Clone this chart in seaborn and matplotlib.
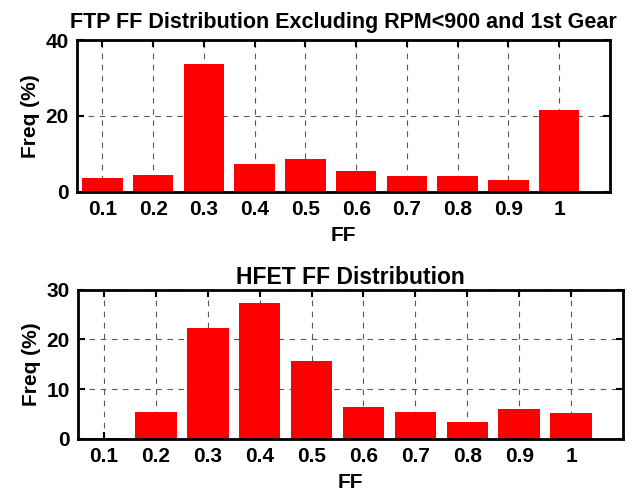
import matplotlib.pyplot as plt
import seaborn as sns

# FF bin centres and frequencies (%)
ff_bins = [0.1, 0.2, 0.3, 0.4, 0.5, 0.6, 0.7, 0.8, 0.9, 1.0]
ff_labels = ['0.1', '0.2', '0.3', '0.4', '0.5', '0.6', '0.7', '0.8', '0.9', '1']
ftp_freq = [3.7, 4.4, 33.8, 7.4, 8.8, 5.4, 4.1, 4.1, 3.1, 21.6]
hfet_freq = [0.2, 5.5, 22.4, 27.4, 15.6, 6.5, 5.5, 3.4, 6.0, 5.3]

sns.set_theme(style='ticks')
plt.rcParams['font.family'] = ['Liberation Sans', 'DejaVu Sans']
plt.rcParams['font.weight'] = 'bold'
plt.rcParams['axes.labelweight'] = 'bold'
plt.rcParams['axes.titleweight'] = 'bold'
plt.rcParams['text.color'] = 'black'
plt.rcParams['axes.labelcolor'] = 'black'
plt.rcParams['xtick.color'] = 'black'
plt.rcParams['ytick.color'] = 'black'

fig = plt.figure(figsize=(6.39, 4.91), dpi=100)
ax_top = fig.add_axes([0.1205, 0.609, 0.834, 0.3095])
ax_bot = fig.add_axes([0.122, 0.106, 0.853, 0.304])

panels = [
    (ax_top, ftp_freq, 'FTP FF Distribution Excluding RPM<900 and 1st Gear',
     [0, 20, 40], 40, 15.5, 9),
    (ax_bot, hfet_freq, 'HFET FF Distribution', [0, 10, 20, 30], 30, 16.5, 4),
]

for ax, freq, title, yticks, ymax, title_size, title_pad in panels:
    sns.barplot(
        x=ff_bins,
        y=freq,
        native_scale=True,
        color='#ff0000',
        saturation=1,
        width=0.8,
        linewidth=0,
        ax=ax,
    )
    ax.set_xlim(0.05, 1.1)
    ax.set_ylim(0, ymax)
    ax.set_xticks(ff_bins)
    ax.set_xticklabels(ff_labels)
    ax.set_yticks(yticks)
    ax.set_axisbelow(True)
    ax.grid(True, linestyle=(0, (5, 5)), color='0.35', linewidth=0.8)
    ax.tick_params(direction='in', top=True, right=True, length=5, width=1.5,
                   labelsize=15, pad=6)
    for spine in ax.spines.values():
        spine.set_linewidth(2)
        spine.set_color('black')
    ax.set_xlabel('FF', fontsize=15, labelpad=5)
    ax.set_ylabel('Freq (%)', fontsize=15, labelpad=4)
    ax.set_title(title, fontsize=title_size, pad=title_pad)

fig.savefig('out.png', dpi=100)
